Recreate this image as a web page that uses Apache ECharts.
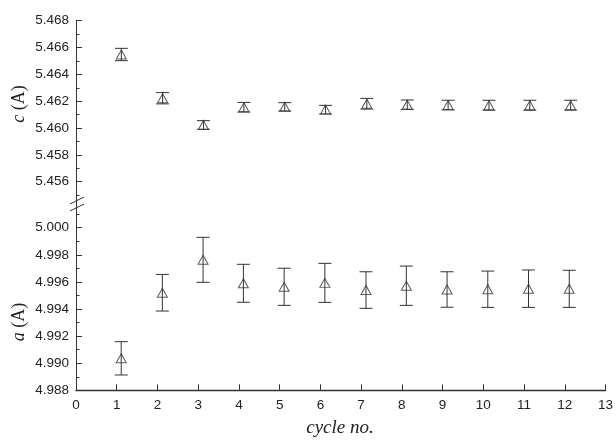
<!DOCTYPE html>
<html>
<head>
<meta charset="utf-8">
<script src="https://cdn.jsdelivr.net/npm/echarts@6/dist/echarts.min.js"></script>
<style>
html,body{margin:0;padding:0;background:#fff;}
#chart{width:616px;height:442px;}
</style>
</head>
<body>
<div id="chart"></div>
<script>
// ---- data ----
var cycleX = [1.11, 2.12, 3.12, 4.11, 5.11, 6.11, 7.12, 8.11, 9.11, 10.11, 11.11, 12.11];
var cValues = [5.46548, 5.46222, 5.46023, 5.46155, 5.46158, 5.46137, 5.46181, 5.46174, 5.46171, 5.46170, 5.46170, 5.46170];
var cErrors = [0.00046, 0.00042, 0.00032, 0.00036, 0.00031, 0.00032, 0.00040, 0.00035, 0.00036, 0.00037, 0.00037, 0.00037];
var aValues = [4.99036, 4.99520, 4.99763, 4.99590, 4.99564, 4.99593, 4.99540, 4.99572, 4.99544, 4.99546, 4.99550, 4.99549];
var aErrors = [0.00123, 0.00135, 0.00166, 0.00140, 0.00137, 0.00144, 0.00135, 0.00145, 0.00131, 0.00134, 0.00138, 0.00137];
var xTicks = [0,1,2,3,4,5,6,7,8,9,10,11,12,13];
var cMajorTicks = [5.456, 5.458, 5.460, 5.462, 5.464, 5.466, 5.468];
var cMinorTicks = [5.455, 5.457, 5.459, 5.461, 5.463, 5.465, 5.467];
var aMajorTicks = [4.988, 4.990, 4.992, 4.994, 4.996, 4.998, 5.000];
var aMinorTicks = [4.989, 4.991, 4.993, 4.995, 4.997, 4.999, 5.001];

var cMin = 5.4545, cMax = 5.468;
var aMin = 4.988, aMax = 5.0015;

var INK = '#333';
var LABEL = '#222';

function pts(xs, ys) { return xs.map(function (x, i) { return [x, ys[i]]; }); }
function errs(xs, ys, es) { return xs.map(function (x, i) { return [x, ys[i] - es[i], ys[i] + es[i]]; }); }

function errRender(params, api) {
  var x = api.value(0);
  var lo = api.coord([x, api.value(1)]);
  var hi = api.coord([x, api.value(2)]);
  var w = 6.5;
  var st = { stroke: INK, lineWidth: 1, fill: null };
  return {
    type: 'group',
    children: [
      { type: 'line', shape: { x1: hi[0], y1: hi[1], x2: lo[0], y2: lo[1] }, style: st },
      { type: 'line', shape: { x1: hi[0] - w, y1: hi[1], x2: hi[0] + w, y2: hi[1] }, style: st },
      { type: 'line', shape: { x1: lo[0] - w, y1: lo[1], x2: lo[0] + w, y2: lo[1] }, style: st }
    ]
  };
}

var tickFont = { fontFamily: 'Liberation Sans, Arial, sans-serif', fontSize: 13.5, color: LABEL };

function majorY(grid, mn, mx, ticks) {
  return {
    type: 'value', gridIndex: grid, position: 'left', min: mn, max: mx,
    axisLine: { show: true, lineStyle: { color: INK, width: 1 } },
    axisTick: { show: true, inside: true, length: 6, customValues: ticks, lineStyle: { color: INK } },
    axisLabel: Object.assign({ show: true, margin: 7, customValues: ticks,
      formatter: function (v) { return Number(v).toFixed(3); } }, tickFont),
    splitLine: { show: false }
  };
}
function minorY(grid, mn, mx, ticks) {
  return {
    type: 'value', gridIndex: grid, position: 'left', offset: 0, min: mn, max: mx,
    axisLine: { show: false },
    axisTick: { show: true, inside: true, length: 3.5, customValues: ticks, lineStyle: { color: INK } },
    axisLabel: { show: false },
    splitLine: { show: false }
  };
}

var chart = echarts.init(document.getElementById('chart'), null, { renderer: 'canvas' });
var option = {
  backgroundColor: '#fff',
  animation: false,
  grid: [
    { left: 76, right: 9, top: 20.7, height: 181.1 },
    { left: 76, right: 9, top: 207.4, height: 182.9 }
  ],
  xAxis: [
    { type: 'value', gridIndex: 0, min: 0, max: 13, interval: 1, show: false },
    { type: 'value', gridIndex: 1, min: 0, max: 13, interval: 1,
      axisLine: { show: true, lineStyle: { color: INK, width: 1.3 } },
      axisTick: { show: true, inside: true, length: 6, customValues: xTicks, lineStyle: { color: INK } },
      axisLabel: Object.assign({ margin: 8, customValues: xTicks }, tickFont),
      splitLine: { show: false } }
  ],
  yAxis: [
    majorY(0, cMin, cMax, cMajorTicks),
    minorY(0, cMin, cMax, cMinorTicks),
    majorY(1, aMin, aMax, aMajorTicks),
    minorY(1, aMin, aMax, aMinorTicks)
  ],
  series: [
    { type: 'custom', xAxisIndex: 0, yAxisIndex: 0, renderItem: errRender,
      encode: { x: 0, y: [1, 2] }, data: errs(cycleX, cValues, cErrors), silent: true },
    { type: 'scatter', xAxisIndex: 0, yAxisIndex: 0, data: pts(cycleX, cValues),
      symbol: 'triangle', symbolSize: [10, 9],
      itemStyle: { color: 'rgba(0,0,0,0)', borderColor: INK, borderWidth: 1 } },
    { type: 'custom', xAxisIndex: 1, yAxisIndex: 2, renderItem: errRender,
      encode: { x: 0, y: [1, 2] }, data: errs(cycleX, aValues, aErrors), silent: true },
    { type: 'scatter', xAxisIndex: 1, yAxisIndex: 2, data: pts(cycleX, aValues),
      symbol: 'triangle', symbolSize: [10, 9],
      itemStyle: { color: 'rgba(0,0,0,0)', borderColor: INK, borderWidth: 1 } }
  ],
  graphic: [
    // axis line through the break
    { type: 'line', shape: { x1: 76.5, y1: 201.5, x2: 76.5, y2: 208 }, style: { stroke: INK, lineWidth: 1 } },
    // break marks
    { type: 'line', shape: { x1: 70, y1: 204, x2: 84, y2: 197 }, style: { stroke: INK, lineWidth: 1 } },
    { type: 'line', shape: { x1: 70, y1: 211, x2: 84, y2: 204 }, style: { stroke: INK, lineWidth: 1 } },
    // y axis names
    { type: 'text', x: 19, y: 104, rotation: Math.PI / 2,
      style: { text: '{i|c} (A)', textAlign: 'center', textVerticalAlign: 'middle',
        fontFamily: 'Liberation Serif, Times New Roman, serif', fontSize: 18, fill: LABEL,
        rich: { i: { fontStyle: 'italic', fontFamily: 'Liberation Serif, Times New Roman, serif', fontSize: 18, fill: LABEL } } } },
    { type: 'text', x: 19, y: 322, rotation: Math.PI / 2,
      style: { text: '{i|a} (A)', textAlign: 'center', textVerticalAlign: 'middle',
        fontFamily: 'Liberation Serif, Times New Roman, serif', fontSize: 18, fill: LABEL,
        rich: { i: { fontStyle: 'italic', fontFamily: 'Liberation Serif, Times New Roman, serif', fontSize: 18, fill: LABEL } } } },
    // x axis name
    { type: 'text', x: 340, y: 428,
      style: { text: 'cycle no.', textAlign: 'center', textVerticalAlign: 'middle',
        fontFamily: 'Liberation Serif, Times New Roman, serif', fontStyle: 'italic', fontSize: 19, fill: LABEL } }
  ]
};
chart.setOption(option);
</script>
</body>
</html>
